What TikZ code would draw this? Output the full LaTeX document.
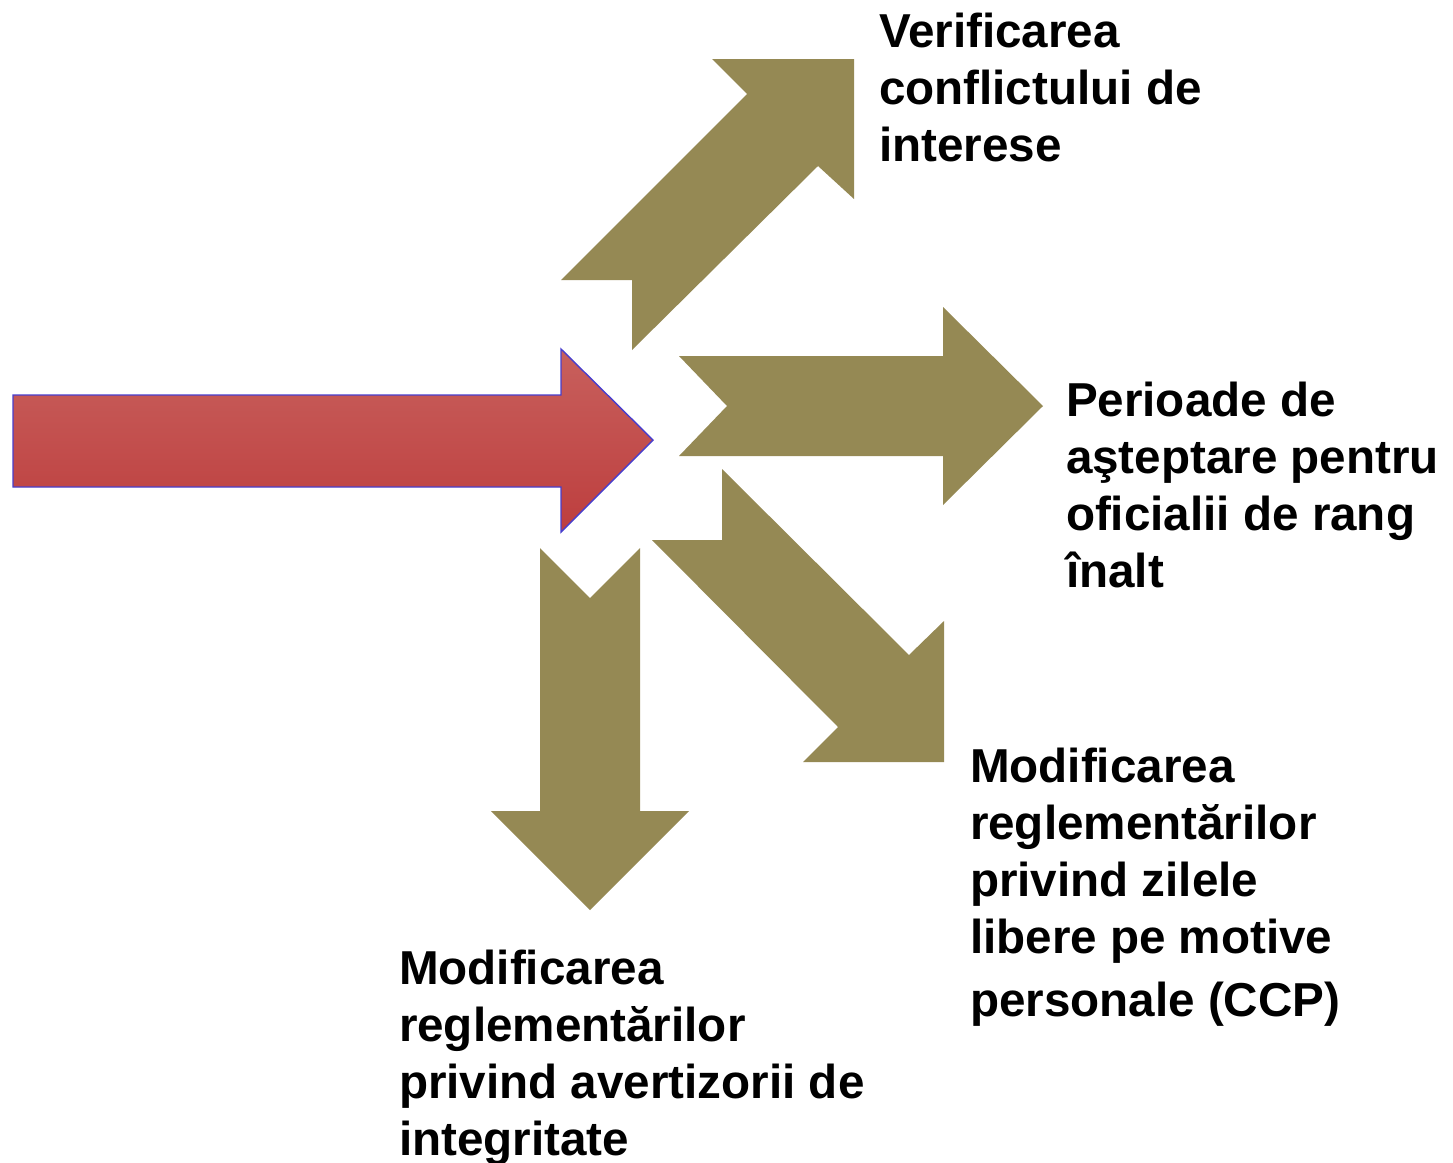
\documentclass[tikz,border=0pt]{standalone}
\usepackage{fontspec}
\setmainfont{Liberation Sans}
\definecolor{olive}{RGB}{149,137,84}
\definecolor{redtop}{RGB}{200,96,93}
\definecolor{redbot}{RGB}{189,62,62}
\definecolor{redline}{RGB}{72,62,205}
\tikzstyle{every node}=[font=\fontsize{23.8pt}{28.5pt}\selectfont\bfseries,inner sep=0,outer sep=0,align=left]
\tikzstyle{branch}=[fill=olive]

\begin{document}
\begin{tikzpicture}[x=0.5pt,y=-0.5pt]
		\useasboundingbox (0,0) rectangle (1453,1163);
		% incoming arrow
		\draw[redline,line width=0.7pt,top color=redtop,bottom color=redbot]
			(13,395) -- (561,395) -- (561,349) -- (653,440) -- (561,532) -- (561,487) -- (13,487) -- cycle;
		% up right
		\fill[branch] (712,59) -- (854,59) -- (854,199) -- (818,166) -- (632,350) -- (632,280) -- (561,280) -- (747,94) -- cycle;
		% right
		\fill[branch] (679,356) -- (943,356) -- (943,307) -- (1043,406) -- (943,505) -- (943,456) -- (679,456) -- (727,406) -- cycle;
		% down right
		\fill[branch] (722,469) -- (909,655) -- (944,621) -- (944,762) -- (803,762) -- (838,727) -- (652,540) -- (722,540) -- cycle;
		% down
		\fill[branch] (540,548) -- (590,598) -- (640,548) -- (640,811) -- (689,811) -- (590,910) -- (491,811) -- (540,811) -- cycle;
		% labels, anchored at the baseline of their last line
		\node[anchor=base west] (conflict) at (879,161) {Verificarea\\conflictului de\\interese};
		\node[anchor=base west] (wait) at (1066,587) {Perioade de\\aşteptare pentru\\oficialii de rang\\înalt};
		\node[anchor=base west] (leave) at (970,1016) {Modificarea\\reglementărilor\\privind zilele\\libere pe motive\\[3pt]personale (CCP)};
		\node[anchor=base west] (whistle) at (399,1155) {Modificarea\\reglementărilor\\privind avertizorii de\\integritate};
	\end{tikzpicture}
\end{document}
